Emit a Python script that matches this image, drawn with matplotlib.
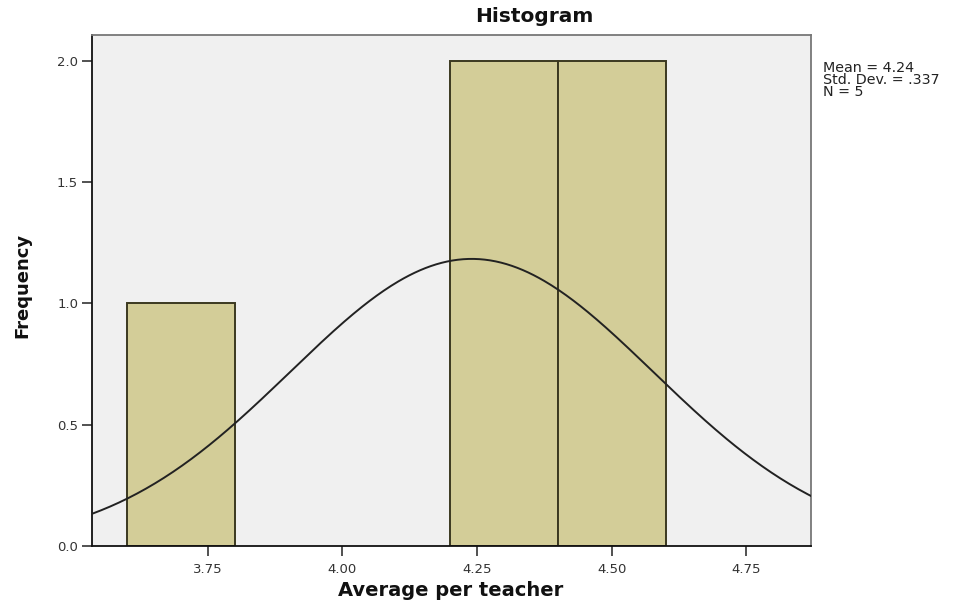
import numpy as np
import matplotlib
matplotlib.use("Agg")
import matplotlib.pyplot as plt

# histogram bins (SPSS style, bin width 0.2)
bin_edges = [3.6, 3.8, 4.0, 4.2, 4.4, 4.6]
counts = [1, 0, 0, 2, 2]

mean = 4.24
std_dev = 0.337
n = 5

xticks = [3.75, 4.00, 4.25, 4.50, 4.75]
yticks = [0.0, 0.5, 1.0, 1.5, 2.0]

plt.rcParams['font.family'] = ['DejaVu Sans']

W, H = 960, 605
fig = plt.figure(figsize=(9.6, 6.05), dpi=100)
ax = fig.add_axes([92/W, 59/H, (811-92)/W, (546-35)/H])
ax.set_facecolor('#f0f0f0')

lefts = np.array(bin_edges[:-1])
widths = np.diff(bin_edges)
for l, w, c in zip(lefts, widths, counts):
    if c > 0:
        ax.bar(l, c, width=w, align='edge', color='#d3cd98',
               edgecolor='#3b3820', linewidth=1.4, zorder=2)

# normal curve scaled to counts
xlim = (3.535, 4.87)
xs = np.linspace(xlim[0], xlim[1], 400)
bw = widths[0]
ys = n * bw / (std_dev * np.sqrt(2 * np.pi)) * np.exp(-0.5 * ((xs - mean) / std_dev) ** 2)
ax.plot(xs, ys, color='#222222', linewidth=1.4, zorder=3)

ax.set_xlim(*xlim)
ax.set_ylim(0, 2.107)
ax.set_xticks(xticks)
ax.set_xticklabels(['%.2f' % v for v in xticks])
ax.set_yticks(yticks)
ax.set_yticklabels(['%.1f' % v for v in yticks])
ax.tick_params(axis='both', direction='out', length=7, width=1.2,
               labelsize=9.5, colors='#333333', pad=3)
ax.tick_params(axis='x', pad=5)

for side in ['left', 'bottom']:
    ax.spines[side].set_color('#111111')
    ax.spines[side].set_linewidth(1.3)
for side in ['top', 'right']:
    ax.spines[side].set_color('#777777')
    ax.spines[side].set_linewidth(1.3)

fig.text(534/W, 1 - 17/H, 'Histogram', ha='center', va='center',
         fontsize=14.5, fontweight='bold', color='#111111')
fig.text(451/W, 1 - 591/H, 'Average per teacher', ha='center', va='center',
         fontsize=14, fontweight='bold', color='#111111')
fig.text(22/W, 1 - 285/H, 'Frequency', ha='center', va='center', rotation=90,
         fontsize=13, fontweight='bold', color='#111111')

fig.text(823/W, 1 - 61/H,
         'Mean = %.2f\nStd. Dev. = %s\nN = %d' % (mean, ('%.3f' % std_dev)[1:], n),
         ha='left', va='top', fontsize=10.3, linespacing=0.8, color='#222222')

fig.savefig('out.png', dpi=100)
